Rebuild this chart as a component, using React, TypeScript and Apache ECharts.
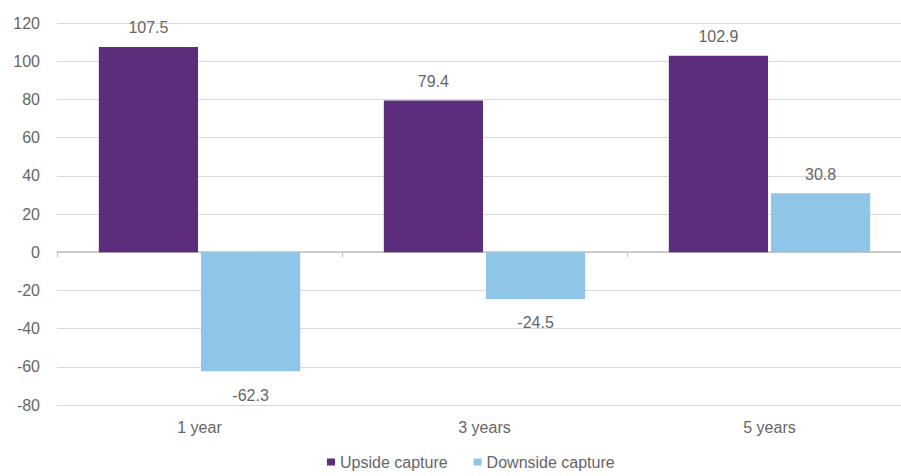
import React, { useEffect, useRef } from "react";
import * as echarts from "echarts";

const categories = ["1 year", "3 years", "5 years"];
const upside = [107.5, 79.4, 102.9];
const downside = [-62.3, -24.5, 30.8];
const seriesNames = ["Upside capture", "Downside capture"];

export default function App() {
  const ref = useRef<HTMLDivElement>(null);
  useEffect(() => {
    if (!ref.current) return;
    const chart = echarts.init(ref.current, undefined, { renderer: "svg" });
    const font = "Liberation Sans, Arial, sans-serif";
    const txt = "#666666";
    const labelFor = (v: number) => ({
      show: true,
      position: v >= 0 ? "top" : "bottom",
      distance: v >= 0 ? 11 : 16,
      color: txt,
      fontSize: 16,
      fontFamily: font,
      formatter: (p: any) => p.value.toFixed(1),
    });
    const mk = (arr: number[]) =>
      arr.map((v) => ({ value: v, label: labelFor(v) }));
    chart.setOption({
      animation: false,
      textStyle: { fontFamily: font },
      grid: {
        left: 57,
        width: 855,
        top: 23,
        bottom: 71,
        containLabel: false,
        outerBoundsMode: "none",
      },
      legend: {
        bottom: 1,
        left: 322,
        itemWidth: 8,
        itemHeight: 7,
        itemGap: 26,
        icon: "rect",
        textStyle: { color: txt, fontSize: 16, fontFamily: font },
        data: seriesNames,
      },
      xAxis: [
        {
          type: "category",
          data: categories,
          position: "bottom",
          axisLine: { show: false, onZero: false },
          axisTick: { show: false },
          axisLabel: { color: txt, fontSize: 16, margin: 14, fontFamily: font },
        },
        {
          type: "category",
          data: categories,
          position: "bottom",
          axisLine: { show: true, onZero: true, lineStyle: { color: "#bfbfbf", width: 1.5 } },
          axisTick: { show: true, length: 5, lineStyle: { color: "#bfbfbf" } },
          axisLabel: { show: false },
        },
      ],
      yAxis: {
        type: "value",
        min: -80,
        max: 120,
        interval: 20,
        axisLine: { show: false },
        axisTick: { show: false },
        axisLabel: { color: txt, fontSize: 16, margin: 17, fontFamily: font },
        splitLine: { lineStyle: { color: "#d9d9d9", width: 1 } },
      },
      series: [
        {
          name: seriesNames[0],
          type: "bar",
          xAxisIndex: 0,
          data: mk(upside),
          barWidth: "34.8%",
          barGap: "3%",
          itemStyle: { color: "#5c2d7d" },
        },
        {
          name: seriesNames[1],
          type: "bar",
          xAxisIndex: 0,
          data: mk(downside),
          barWidth: "34.8%",
          barGap: "3%",
          itemStyle: { color: "#8fc6e8" },
        },
      ],
    });
    return () => chart.dispose();
  }, []);
  return <div ref={ref} style={{ width: 901, height: 476, position: "absolute", left: 0, top: 0 }} />;
}
